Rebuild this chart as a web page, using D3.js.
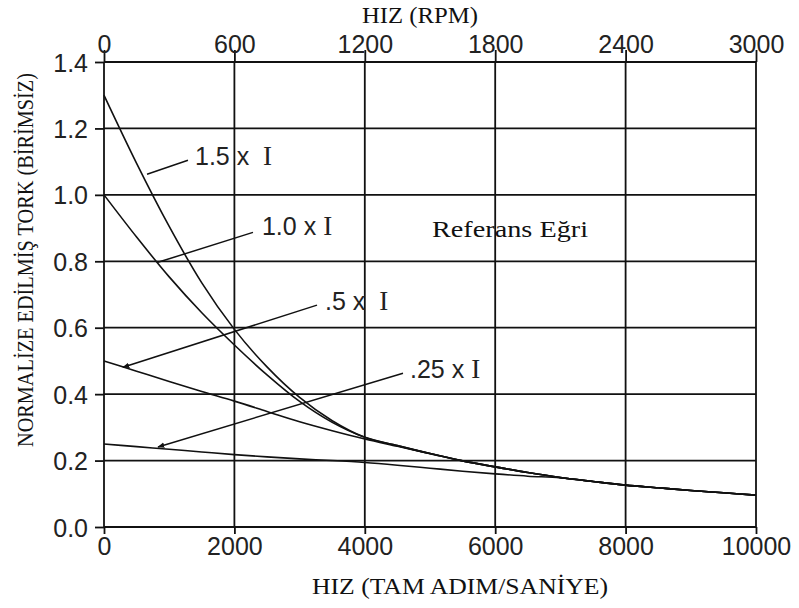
<!DOCTYPE html>
<html>
<head>
<meta charset="utf-8">
<script src="https://cdn.jsdelivr.net/npm/d3@7/dist/d3.min.js"></script>
<style>
  body { margin: 0; background: #fff; }
  .tick text { font-family: "Liberation Sans", Arial, sans-serif; font-size: 25px; fill: #222; }
  .title { font-family: "Liberation Serif", "Times New Roman", serif; fill: #111; }
</style>
</head>
<body>
<div id="chart"></div>
<script>
// speed in full steps per second
const speeds = [0, 500, 1000, 1500, 2000, 2500, 3000, 3500, 4000, 4500, 5000,
                5500, 6000, 6500, 7000, 7500, 8000, 8500, 9000, 9500, 10000];

// normalized torque
const torque15 = [1.30, 1.095, 0.905, 0.735, 0.595, 0.482, 0.39, 0.32, 0.27, 0.245, 0.221,
                  0.199, 0.181, 0.164, 0.149, 0.137, 0.126, 0.118, 0.110, 0.103, 0.096];
const torque10 = [1.00, 0.873, 0.753, 0.645, 0.548, 0.458, 0.378, 0.315, 0.27, 0.245, 0.221,
                  0.199, 0.181, 0.164, 0.149, 0.137, 0.126, 0.118, 0.110, 0.103, 0.096];
const torque05 = [0.50, 0.469, 0.438, 0.408, 0.379, 0.348, 0.317, 0.29, 0.265, 0.243, 0.221,
                  0.199, 0.181, 0.164, 0.149, 0.137, 0.126, 0.118, 0.110, 0.103, 0.096];
const torque025 = [0.25, 0.242, 0.234, 0.226, 0.218, 0.211, 0.205, 0.20, 0.194, 0.186, 0.177,
                   0.168, 0.16, 0.153, 0.148, 0.137, 0.126, 0.118, 0.110, 0.103, 0.096];

const stepTicks = [0, 2000, 4000, 6000, 8000, 10000];
const rpmTicks = [0, 600, 1200, 1800, 2400, 3000];
const torqueTicks = [0, 0.2, 0.4, 0.6, 0.8, 1.0, 1.2, 1.4];

// labels with leader lines, in data units
const notes = [
  { num: "1.5", gap: " x  ", tip: [660, 1.062], tail: [1288, 1.104], at: [1396, 1.089], arrow: false },
  { num: "1.0", gap: " x ",  tip: [828, 0.797], tail: [2285, 0.887], at: [2423, 0.878], arrow: false },
  { num: ".5",  gap: " x  ", tip: [291, 0.481], tail: [3267, 0.668], at: [3390, 0.653], arrow: true },
  { num: ".25", gap: " x ",  tip: [828, 0.241], tail: [4586, 0.463], at: [4693, 0.448], arrow: true, box: true }
];

const W = 799, H = 608;
const pLeft = 104, pRight = 756, pTop = 62, pBottom = 527;

const svg = d3.select("#chart").append("svg")
    .attr("width", W)
    .attr("height", H);

svg.append("defs").append("marker")
    .attr("id", "head")
    .attr("viewBox", "0 0 10 10")
    .attr("refX", 9).attr("refY", 5)
    .attr("markerWidth", 7).attr("markerHeight", 7)
    .attr("markerUnits", "userSpaceOnUse")
    .attr("orient", "auto")
  .append("path")
    .attr("d", "M0,1 L10,5 L0,9 Z")
    .attr("fill", "#111");

let x = d3.scaleLinear().domain([0, 10000]).range([pLeft, pRight]);
let xTop = d3.scaleLinear().domain([0, 3000]).range([pLeft, pRight]);
let y = d3.scaleLinear().domain([0, 1.4]).range([pBottom, pTop]);

// grid
let grid = svg.append("g").attr("stroke", "#111").attr("stroke-width", 1.8);
grid.selectAll(".v").data(stepTicks).enter().append("line")
    .attr("x1", d => x(d)).attr("x2", d => x(d))
    .attr("y1", pTop).attr("y2", pBottom);
grid.selectAll(".h").data(torqueTicks).enter().append("line")
    .attr("x1", pLeft).attr("x2", pRight)
    .attr("y1", d => y(d)).attr("y2", d => y(d));

// axes
let xAxis = d3.axisBottom(x).tickValues(stepTicks).tickSize(7).tickPadding(3).tickFormat(d3.format("d"));
let topAxis = d3.axisTop(xTop).tickValues(rpmTicks).tickSize(12).tickPadding(-3).tickFormat(d3.format("d"));
let yAxis = d3.axisLeft(y).tickValues(torqueTicks).tickSize(9).tickPadding(7).tickFormat(d3.format(".1f"));

function styleAxis(g) {
  g.select(".domain").remove();
  g.selectAll(".tick line").attr("stroke", "#111").attr("stroke-width", 1.8);
}

svg.append("g").attr("transform", "translate(0," + pBottom + ")").call(xAxis).call(styleAxis);
svg.append("g").attr("transform", "translate(0," + pTop + ")").call(topAxis).call(styleAxis);
svg.append("g").attr("transform", "translate(" + pLeft + ",0)").call(yAxis).call(styleAxis)
   .selectAll(".tick text").attr("dy", "0.36em");
svg.selectAll(".tick").attr("font-size", null).attr("font-family", null);

// curves
let line = d3.line()
    .x((d, i) => x(speeds[i]))
    .y(d => y(d))
    .curve(d3.curveMonotoneX);

svg.append("g").selectAll("path")
    .data([torque025, torque05, torque10, torque15])
    .enter().append("path")
    .attr("d", line)
    .attr("fill", "none")
    .attr("stroke", "#111")
    .attr("stroke-width", 1.6);

// annotations
let ann = svg.append("g");
notes.forEach(n => {
  let t = ann.append("text")
      .attr("x", x(n.at[0]))
      .attr("y", y(n.at[1]))
      .attr("font-family", "Liberation Sans, Arial, sans-serif")
      .attr("font-size", 25)
      .attr("fill", "#222")
      .style("white-space", "pre");
  t.append("tspan").text(n.num + n.gap);
  t.append("tspan").attr("font-family", "Liberation Serif, serif").attr("font-size", 27).text("I");
  if (n.box) {
    let b = t.node().getBBox();
    ann.insert("rect", "text")
        .attr("x", b.x - 3).attr("y", b.y - 3)
        .attr("width", b.width + 10).attr("height", b.height + 8)
        .attr("fill", "#fff");
  }
  ann.append("line")
      .attr("x1", x(n.tail[0])).attr("y1", y(n.tail[1]))
      .attr("x2", x(n.tip[0])).attr("y2", y(n.tip[1]))
      .attr("stroke", "#111")
      .attr("stroke-width", 1.5)
      .attr("marker-end", n.arrow ? "url(#head)" : null);
});

svg.append("text").attr("class", "title")
    .attr("x", x(5031)).attr("y", y(0.872))
    .attr("font-size", 23)
    .attr("textLength", 156).attr("lengthAdjust", "spacingAndGlyphs")
    .text("Referans Eğri");

// axis titles
svg.append("text").attr("class", "title")
    .attr("x", 420).attr("y", 23)
    .attr("text-anchor", "middle")
    .attr("font-size", 24)
    .attr("textLength", 116).attr("lengthAdjust", "spacingAndGlyphs")
    .text("HIZ (RPM)");

svg.append("text").attr("class", "title")
    .attr("x", 460).attr("y", 594)
    .attr("text-anchor", "middle")
    .attr("font-size", 24)
    .attr("textLength", 296).attr("lengthAdjust", "spacingAndGlyphs")
    .text("HIZ (TAM ADIM/SANİYE)");

svg.append("text").attr("class", "title")
    .attr("transform", "translate(33,260) rotate(-90)")
    .attr("text-anchor", "middle")
    .attr("font-size", 23)
    .attr("textLength", 374).attr("lengthAdjust", "spacingAndGlyphs")
    .text("NORMALİZE EDİLMİŞ TORK (BİRİMSİZ)");
</script>
</body>
</html>
